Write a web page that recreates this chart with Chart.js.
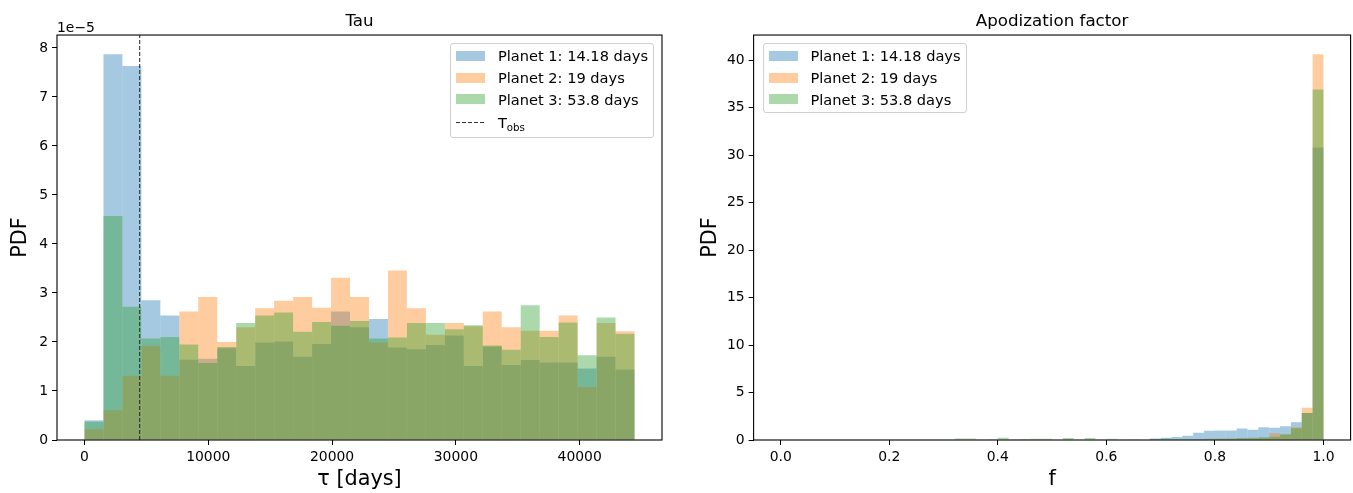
<!DOCTYPE html>
<html><head><meta charset="utf-8">
<script src="https://cdn.jsdelivr.net/npm/chart.js@4.4.0/dist/chart.umd.min.js"></script>
<style>
html,body{margin:0;padding:0;background:#fff;}
#wrap{position:relative;width:1353px;height:493px;overflow:hidden;font-family:'DejaVu Sans',sans-serif;color:#000;}
canvas{position:absolute;top:0;}
#c1{left:0;}
#c2{left:676px;}
.legend{position:absolute;background:rgba(255,255,255,0.8);border:1px solid #d0d0d0;border-radius:3px;padding:1px 5px 2px 4.5px;font-size:14.6px;box-sizing:border-box;}
.row{display:flex;align-items:center;height:21.7px;white-space:nowrap;}
.row.tall{height:25px;}
.sw{width:29.5px;height:10px;margin-right:12.5px;flex:none;}
.dash{width:29.5px;height:1px;margin-right:12.5px;flex:none;background:repeating-linear-gradient(to right,#333 0 4px,transparent 4px 6px);}
sub{font-size:70%;vertical-align:-3px;line-height:0;}
.offset{position:absolute;left:57px;top:19px;font-size:13.9px;line-height:16px;}
</style></head>
<body>
<div id="wrap">
  <canvas id="c1" width="676" height="493" style="width:676px;height:493px"></canvas>
  <canvas id="c2" width="677" height="493" style="width:677px;height:493px"></canvas>
  <div class="offset">1e&#8722;5</div>
  <div class="legend" id="lg1" style="right:699px;top:43px;"></div>
  <div class="legend" id="lg2" style="left:763px;top:43px;"></div>
</div>
<script>
// ---------------- data ----------------
const legendLabels = ['Planet 1: 14.18 days', 'Planet 2: 19 days', 'Planet 3: 53.8 days'];
const seriesColors = ['rgba(31,119,180,0.4)', 'rgba(255,127,14,0.4)', 'rgba(44,160,44,0.4)'];

// Tau histogram: 29 equal bins from 0 to tauMax (PDF in units of 1e-5)
const tauMin = 0;
const tauMax = 44430;
const tObs = 4460;
const tauPlanet1 = [0.40, 7.87, 7.63, 2.85, 2.54, 1.64, 1.66, 1.87, 1.51, 1.99, 2.01, 1.70, 1.96, 2.62, 2.30, 2.47, 1.89, 1.85, 1.94, 2.13, 1.51, 1.91, 1.53, 1.63, 1.58, 1.58, 1.46, 1.70, 1.44];
const tauPlanet2 = [0.22, 0.61, 1.31, 1.92, 1.31, 2.62, 2.92, 2.00, 2.30, 2.69, 2.84, 2.92, 2.70, 3.31, 2.92, 1.99, 3.46, 2.69, 2.15, 2.39, 2.32, 2.62, 2.30, 2.23, 2.23, 2.54, 1.08, 2.39, 2.22];
const tauPlanet3 = [0.375, 4.57, 2.72, 2.07, 2.10, 1.95, 1.57, 1.90, 2.39, 2.54, 2.60, 2.21, 2.41, 2.33, 2.43, 2.07, 2.09, 2.39, 2.39, 2.26, 2.34, 1.93, 1.84, 2.75, 2.10, 2.40, 1.73, 2.50, 2.17];
const tauXTicks = [0, 10000, 20000, 30000, 40000];
const tauYTicks = [0, 1, 2, 3, 4, 5, 6, 7, 8];

// Apodization factor histogram: 50 equal bins from 0 to 1
const apodMin = 0;
const apodMax = 1;
const apodPlanet1 = [0,0,0,0,0,0,0,0,0,0, 0,0,0,0,0,0,0,0,0,0, 0,0,0,0,0,0,0,0,0,0, 0,0,0.02,0.05,0.17,0.25,0.32,0.45,0.77,0.98, 1.0,1.0,1.22,1.08,1.33,1.30,1.44,1.86,2.85,30.8];
const apodPlanet2 = [0,0,0,0,0,0,0,0,0,0, 0,0,0,0,0,0,0,0,0,0, 0,0,0,0,0,0,0,0,0,0, 0,0,0,0,0.02,0.03,0.05,0.06,0.08,0.1, 0.12,0.12,0.15,0.18,0.22,0.70,0.58,1.35,3.40,40.6];
const apodPlanet3 = [0,0,0,0,0,0,0,0,0,0, 0,0,0,0,0,0.05,0.15,0.15,0.05,0.08, 0.25,0.03,0.10,0.12,0.12,0.05,0.22,0.05,0.20,0.05, 0.12,0.05,0.04,0.05,0.10,0.12,0.10,0.10,0.10,0.12, 0.12,0.15,0.22,0.25,0.30,0.35,0.60,1.25,2.85,36.9];
const apodXTicks = [0, 0.2, 0.4, 0.6, 0.8, 1.0];
const apodYTicks = [0, 5, 10, 15, 20, 25, 30, 35, 40];

// ---------------- helpers ----------------
function binned(values, lo, hi) {
  const w = (hi - lo) / values.length;
  return values.map((v, i) => ({ x: lo + w * (i + 0.5), y: v }));
}
function barSets(series, lo, hi) {
  return series.map((vals, i) => ({
    type: 'bar', label: legendLabels[i], data: binned(vals, lo, hi),
    backgroundColor: seriesColors[i], borderWidth: 0, order: 3 - i
  }));
}
const frame = {
  id: 'frame',
  afterDatasetsDraw(chart) {
    const { ctx, chartArea: a } = chart;
    ctx.save();
    ctx.strokeStyle = '#000';
    ctx.lineWidth = 1.1;
    ctx.strokeRect(a.left, a.top, a.right - a.left, a.bottom - a.top);
    ctx.restore();
  }
};
Chart.defaults.font.family = "'DejaVu Sans', sans-serif";
Chart.defaults.color = '#000';

function scales(o) {
  const tickFont = { size: 13.9 };
  const grid = () => ({ display: true, offset: false, drawOnChartArea: false, drawTicks: true, tickLength: 5, color: '#000', lineWidth: 1 });
  return {
    x: {
      type: 'linear', min: o.xMin, max: o.xMax, offset: false, bounds: 'data',
      afterBuildTicks: s => { s.ticks = o.xTicks.map(v => ({ value: v })); },
      afterFit: s => { s.height = 53; },
      ticks: { callback: o.xFmt, font: tickFont, color: '#000', padding: 4, maxRotation: 0, autoSkip: false },
      grid: grid(), border: { display: false },
      title: { display: true, text: o.xTitle, font: { size: 20.8 }, color: '#000', padding: { top: 0, bottom: 0.5 } }
    },
    y: {
      type: 'linear', min: 0, max: o.yMax, bounds: 'data',
      afterBuildTicks: s => { s.ticks = o.yTicks.map(v => ({ value: v })); },
      afterFit: s => { s.width = o.yWidth; },
      ticks: { callback: v => String(v), font: tickFont, color: '#000', padding: 4, autoSkip: false },
      grid: grid(), border: { display: false },
      title: { display: true, text: 'PDF', font: { size: 20.8 }, color: '#000', padding: { top: o.yTitlePad, bottom: 0 } }
    }
  };
}
function baseOptions(title, pad, sc) {
  return {
    responsive: false, animation: false, devicePixelRatio: 1,
    layout: { padding: pad },
    datasets: { bar: { grouped: false, barPercentage: 1, categoryPercentage: 1, inflateAmount: 0 } },
    plugins: {
      legend: { display: false }, tooltip: { enabled: false },
      title: { display: true, text: title, fullSize: false, color: '#000',
               font: { size: 16.7, weight: 'normal' }, padding: { top: 11.7, bottom: 3.3 } }
    },
    scales: sc
  };
}

// ---------------- left chart: Tau ----------------
const tauYMax = Math.max(...tauPlanet1, ...tauPlanet2, ...tauPlanet3) * 1.05;
const tauSpan = tauMax - tauMin;
const tauSets = barSets([tauPlanet1, tauPlanet2, tauPlanet3], tauMin, tauMax);
tauSets.push({
  type: 'line', label: 'T_obs', data: [{ x: tObs, y: 0 }, { x: tObs, y: tauYMax }],
  borderColor: '#222', borderWidth: 1, borderDash: [4, 2], pointRadius: 0, fill: false, order: 0
});
new Chart(document.getElementById('c1'), {
  type: 'bar',
  data: { datasets: tauSets },
  options: baseOptions('Tau', { left: 0, right: 14, top: 0, bottom: 0 }, scales({
    xMin: tauMin - 0.05 * tauSpan, xMax: tauMax + 0.05 * tauSpan, xTicks: tauXTicks,
    xFmt: v => String(v), xTitle: '\u03C4 [days]',
    yMax: tauYMax, yTicks: tauYTicks, yWidth: 57, yTitlePad: 8
  })),
  plugins: [frame]
});

// ---------------- right chart: Apodization factor ----------------
const apodYMax = Math.max(...apodPlanet1, ...apodPlanet2, ...apodPlanet3) * 1.05;
const apodSpan = apodMax - apodMin;
new Chart(document.getElementById('c2'), {
  type: 'bar',
  data: { datasets: barSets([apodPlanet1, apodPlanet2, apodPlanet3], apodMin, apodMax) },
  options: baseOptions('Apodization factor', { left: 0, right: 2.4, top: 0, bottom: 0 }, scales({
    xMin: apodMin - 0.05 * apodSpan, xMax: apodMax + 0.05 * apodSpan, xTicks: apodXTicks,
    xFmt: v => v.toFixed(1), xTitle: 'f',
    yMax: apodYMax, yTicks: apodYTicks, yWidth: 77.6, yTitlePad: 22.5
  })),
  plugins: [frame]
});

// ---------------- legends (HTML text) ----------------
function buildLegend(el, withTobs) {
  legendLabels.forEach((lab, i) => {
    const r = document.createElement('div'); r.className = 'row';
    const sw = document.createElement('span'); sw.className = 'sw'; sw.style.background = seriesColors[i];
    const tx = document.createElement('span'); tx.textContent = lab;
    r.appendChild(sw); r.appendChild(tx); el.appendChild(r);
  });
  if (withTobs) {
    const r = document.createElement('div'); r.className = 'row tall';
    const d = document.createElement('span'); d.className = 'dash';
    const tx = document.createElement('span'); tx.innerHTML = 'T<sub>obs</sub>';
    r.appendChild(d); r.appendChild(tx); el.appendChild(r);
  }
}
buildLegend(document.getElementById('lg1'), true);
buildLegend(document.getElementById('lg2'), false);
</script>
</body></html>
